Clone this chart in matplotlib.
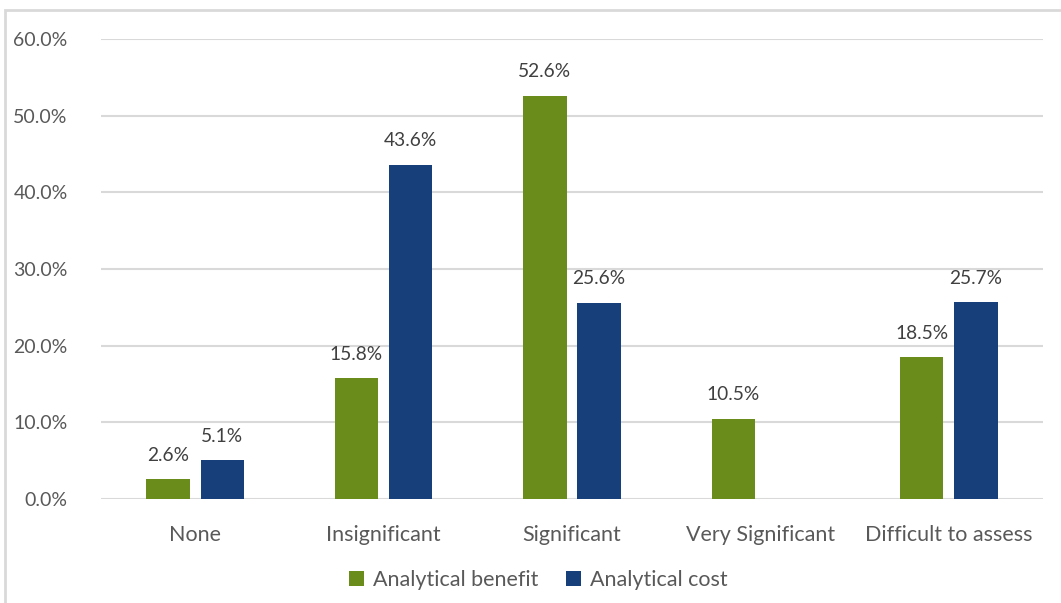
import numpy as np
import matplotlib.pyplot as plt
from matplotlib.patches import Rectangle
from matplotlib.ticker import FuncFormatter

categories = ['None', 'Insignificant', 'Significant', 'Very Significant', 'Difficult to assess']
benefit = [2.6, 15.8, 52.6, 10.5, 18.5]
cost = [5.1, 43.6, 25.6, None, 25.7]

green = '#6A8C1A'
blue = '#17407A'
grid_col = '#D9D9D9'

plt.rcParams['font.family'] = ['Lato', 'DejaVu Sans']

fig = plt.figure(figsize=(10.61, 6.03), dpi=100)
# chart frame (cropped at right/bottom)
fig.patches.append(Rectangle((5 / 1061, -0.1), 1.2, 1.1 - 10 / 603,
                             transform=fig.transFigure, fill=False,
                             edgecolor=grid_col, linewidth=2))

ax = fig.add_axes([101 / 1061, 1 - 499 / 603, (1043 - 101) / 1061, (499 - 39) / 603])

x = np.arange(len(categories))
w = 0.23
off = 0.144
fs_lab = 13.8
fs_cat = 15.5

c_vals = [v if v is not None else 0 for v in cost]
bars_b = ax.bar(x - off, benefit, w, color=green, label='Analytical benefit', zorder=3)
bars_c = ax.bar(x + off, c_vals, w, color=blue, label='Analytical cost', zorder=3)

for rect, v in zip(bars_b, benefit):
    ax.text(rect.get_x() + rect.get_width() / 2, v + 2.0, f'{v:.1f}%',
            ha='center', va='bottom', fontsize=fs_lab, color='#404040')
for rect, v in zip(bars_c, cost):
    if v is None:
        continue
    ax.text(rect.get_x() + rect.get_width() / 2, v + 2.0, f'{v:.1f}%',
            ha='center', va='bottom', fontsize=fs_lab, color='#404040')

ax.set_xlim(-0.5, len(categories) - 0.5)
ax.set_ylim(0, 60)
ax.set_yticks(np.arange(0, 61, 10))
ax.yaxis.set_major_formatter(FuncFormatter(lambda v, p: f'{v:.1f}%'))
ax.set_xticks(x)
ax.set_xticklabels(categories)
ax.grid(axis='y', color=grid_col, linewidth=1.5, zorder=0)
for s in ax.spines.values():
    s.set_visible(False)
ax.tick_params(axis='both', length=0, colors='#595959')
ax.tick_params(axis='y', pad=24, labelsize=14)
ax.tick_params(axis='x', pad=19, labelsize=fs_cat)

ax.legend(loc='center', bbox_to_anchor=(538 / 1061, 1 - 580 / 603), bbox_transform=fig.transFigure,
          ncol=2, frameon=False,
          fontsize=fs_cat, labelcolor='#595959', handlelength=0.7, handleheight=0.7,
          handletextpad=0.4, columnspacing=1.3)

fig.savefig('out.png', dpi=100)
